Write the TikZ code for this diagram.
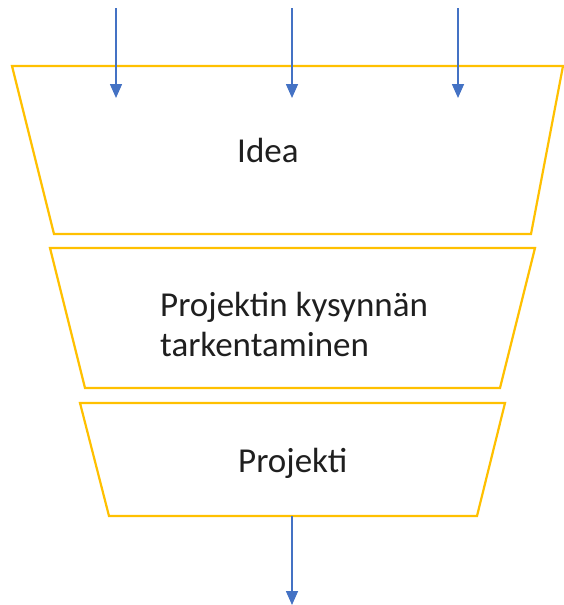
\documentclass[tikz,border=0pt]{standalone}
\usepackage{fontspec}
\setmainfont{Carlito}
\usetikzlibrary{arrows.meta}
\definecolor{funnelgold}{HTML}{FFC000}
\definecolor{flowblue}{HTML}{4472C4}
\tikzset{
  stage/.style={draw=funnelgold, line width=2.2pt, line join=miter},
  flow/.style={draw=flowblue, line width=1.6pt, -{Triangle[width=12pt,length=14pt]}},
  label/.style={inner sep=0pt, anchor=base west, font=\fontsize{35}{40}\selectfont, text=black!88, align=left}
}
\begin{document}
\begin{tikzpicture}[x=1pt, y=-1pt]
\useasboundingbox (0,0) rectangle (564,605);

% funnel stages
\draw[stage] (12,66) -- (563,66) -- (531,234) -- (54,234) -- cycle;
\draw[stage] (50,248) -- (535,248) -- (500,388) -- (85,388) -- cycle;
\draw[stage] (80,403) -- (505,403) -- (477,516) -- (109,516) -- cycle;

% stage labels (base anchor sits on the last line)
\node[label] (idea) at (237,162) {Idea};
\node[label] (demand) at (160,356) {Projektin kysynnän\\tarkentaminen};
\node[label] (project) at (238,472) {Projekti};

% inputs and output
\coordinate (inA) at (116,8);   \coordinate (inAend) at (116,98);
\coordinate (inB) at (292,8);   \coordinate (inBend) at (292,98);
\coordinate (inC) at (458,8);   \coordinate (inCend) at (458,98);
\coordinate (outS) at (292,516); \coordinate (outE) at (292,605);

\draw[flow] (inA) -- (inAend);
\draw[flow] (inB) -- (inBend);
\draw[flow] (inC) -- (inCend);
\draw[flow] (outS) -- (outE);
\end{tikzpicture}
\end{document}
